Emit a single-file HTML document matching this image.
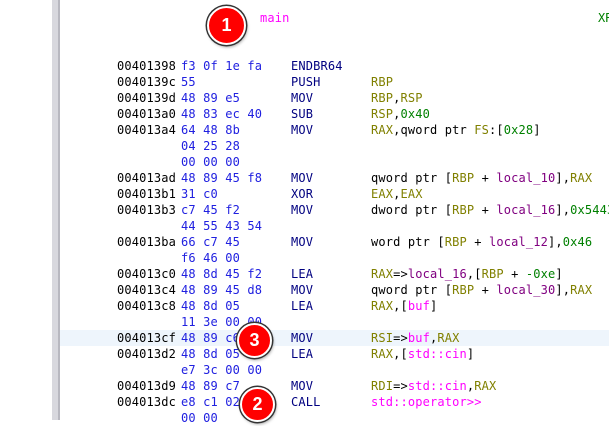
<!DOCTYPE html>
<html><head><style>
body{margin:0;width:609px;height:420px;overflow:hidden;background:#fff;position:relative;font-family:"DejaVu Sans Mono","Liberation Mono",monospace;font-size:12px;letter-spacing:0.15px}
.bar{position:absolute;left:52px;top:0;width:6px;height:420px;background:#d8d8de;border-right:2px solid #b8b8c0}
.r{position:absolute;left:0;width:609px;height:16px;line-height:16px;white-space:pre}
.r span{position:absolute}
.a{left:117px;color:#000}
.b{left:181px;color:#2020e0}
.m{left:291px;color:#000080}
.o{left:371px;color:#000}
.g{color:#808000}.n{color:#008000}.p{color:#800080}.k{color:#ff00ff}
.o i{font-style:normal;position:static}
.c{position:absolute;border-radius:50%;background:#f00;border:2px solid #fff;box-shadow:0 0 0 1.5px #333,1px 2px 3px rgba(0,0,0,.4);color:#fff;font:bold 18px "Liberation Sans",sans-serif;text-align:center;letter-spacing:0}
</style></head><body>
<div class="bar"></div>
<div class="r" style="top:330px;left:60px;width:549px;background:#eef5fc"></div>
<div class="r" style="top:10px"><span style="left:260px;color:#ff00ff">main</span><span style="left:598px;color:#008000">XR</span></div>
<div class="r" style="top:58px"><span class="a">00401398</span><span class="b">f3 0f 1e fa</span><span class="m">ENDBR64</span></div>
<div class="r" style="top:74px"><span class="a">0040139c</span><span class="b">55</span><span class="m">PUSH</span><span class="o"><i class="g">RBP</i></span></div>
<div class="r" style="top:90px"><span class="a">0040139d</span><span class="b">48 89 e5</span><span class="m">MOV</span><span class="o"><i class="g">RBP</i>,<i class="g">RSP</i></span></div>
<div class="r" style="top:106px"><span class="a">004013a0</span><span class="b">48 83 ec 40</span><span class="m">SUB</span><span class="o"><i class="g">RSP</i>,<i class="n">0x40</i></span></div>
<div class="r" style="top:122px"><span class="a">004013a4</span><span class="b">64 48 8b</span><span class="m">MOV</span><span class="o"><i class="g">RAX</i>,qword ptr <i class="g">FS</i>:[<i class="n">0x28</i>]</span></div>
<div class="r" style="top:138px"><span class="b">04 25 28</span></div>
<div class="r" style="top:154px"><span class="b">00 00 00</span></div>
<div class="r" style="top:170px"><span class="a">004013ad</span><span class="b">48 89 45 f8</span><span class="m">MOV</span><span class="o">qword ptr [<i class="g">RBP</i> + <i class="p">local_10</i>],<i class="g">RAX</i></span></div>
<div class="r" style="top:186px"><span class="a">004013b1</span><span class="b">31 c0</span><span class="m">XOR</span><span class="o"><i class="g">EAX</i>,<i class="g">EAX</i></span></div>
<div class="r" style="top:202px"><span class="a">004013b3</span><span class="b">c7 45 f2</span><span class="m">MOV</span><span class="o">dword ptr [<i class="g">RBP</i> + <i class="p">local_16</i>],<i class="n">0x54435</i></span></div>
<div class="r" style="top:218px"><span class="b">44 55 43 54</span></div>
<div class="r" style="top:234px"><span class="a">004013ba</span><span class="b">66 c7 45</span><span class="m">MOV</span><span class="o">word ptr [<i class="g">RBP</i> + <i class="p">local_12</i>],<i class="n">0x46</i></span></div>
<div class="r" style="top:250px"><span class="b">f6 46 00</span></div>
<div class="r" style="top:266px"><span class="a">004013c0</span><span class="b">48 8d 45 f2</span><span class="m">LEA</span><span class="o"><i class="g">RAX</i>=&gt;<i class="p">local_16</i>,[<i class="g">RBP</i> + <i class="n">-0xe</i>]</span></div>
<div class="r" style="top:282px"><span class="a">004013c4</span><span class="b">48 89 45 d8</span><span class="m">MOV</span><span class="o">qword ptr [<i class="g">RBP</i> + <i class="p">local_30</i>],<i class="g">RAX</i></span></div>
<div class="r" style="top:298px"><span class="a">004013c8</span><span class="b">48 8d 05</span><span class="m">LEA</span><span class="o"><i class="g">RAX</i>,[<i class="k">buf</i>]</span></div>
<div class="r" style="top:314px"><span class="b">11 3e 00 00</span></div>
<div class="r" style="top:330px"><span class="a">004013cf</span><span class="b">48 89 c6</span><span class="m">MOV</span><span class="o"><i class="g">RSI</i>=&gt;<i class="k">buf</i>,<i class="g">RAX</i></span></div>
<div class="r" style="top:346px"><span class="a">004013d2</span><span class="b">48 8d 05</span><span class="m">LEA</span><span class="o"><i class="g">RAX</i>,[<i class="k">std::cin</i>]</span></div>
<div class="r" style="top:362px"><span class="b">e7 3c 00 00</span></div>
<div class="r" style="top:378px"><span class="a">004013d9</span><span class="b">48 89 c7</span><span class="m">MOV</span><span class="o"><i class="g">RDI</i>=&gt;<i class="k">std::cin</i>,<i class="g">RAX</i></span></div>
<div class="r" style="top:394px"><span class="a">004013dc</span><span class="b">e8 c1 02</span><span class="m">CALL</span><span class="o"><i class="k">std::operator&gt;&gt;</i></span></div>
<div class="r" style="top:410px"><span class="b">00 00</span></div>
<div class="c" style="left:207px;top:6px;width:35px;height:35px;line-height:35px">1</div>
<div class="c" style="left:237px;top:323px;width:31px;height:31px;line-height:31px">3</div>
<div class="c" style="left:240px;top:387px;width:31px;height:31px;line-height:31px">2</div>
</body></html>
